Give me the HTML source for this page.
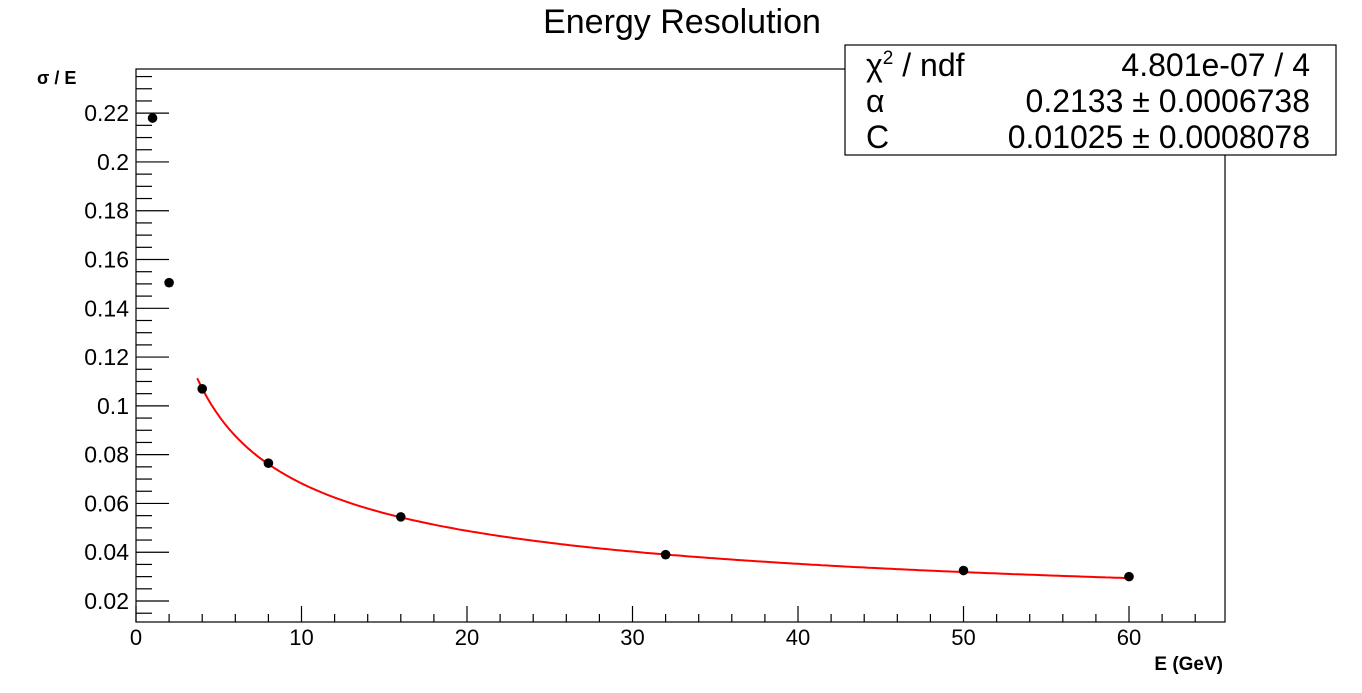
<!DOCTYPE html>
<html><head><meta charset="utf-8"><style>
body{margin:0;background:#fff;}
svg{display:block;font-family:"Liberation Sans",sans-serif;}
</style></head><body>
<svg id="c" width="1362" height="693">
<text x="682" y="33" font-size="34" text-anchor="middle">Energy Resolution</text>
<rect x="136" y="69" width="1089" height="553" fill="none" stroke="#000" stroke-width="1.2"/>
<g id="ax"></g>
<g id="marks"></g>
<text x="37" y="84" font-size="18" font-weight="bold">σ / E</text>
<text x="1223" y="670" font-size="19" font-weight="bold" text-anchor="end">E (GeV)</text>
<g>
<rect x="845" y="45" width="491" height="110" fill="#fff" stroke="#000" stroke-width="1.2"/>
<text x="866" y="76" font-size="32">χ<tspan font-size="19" dy="-12">2</tspan><tspan dy="12"> / ndf</tspan></text>
<text x="1310" y="76" font-size="32" text-anchor="end">4.801e-07 / 4</text>
<text x="866" y="112" font-size="32">α</text>
<text x="1310" y="112" font-size="32" text-anchor="end">0.2133 ± 0.0006738</text>
<text x="866" y="148" font-size="32">C</text>
<text x="1310" y="148" font-size="32" text-anchor="end">0.01025 ± 0.0008078</text>
</g>
</svg>
<script>
const energies=[1,2,4,8,16,32,50,60];
const resolutions=[0.218,0.1505,0.107,0.0765,0.0545,0.039,0.0325,0.030];
const fitAlpha=0.2133;
const fitC=0.01025;
const fitRange=[3.7,60];
const xTicks=[0,10,20,30,40,50,60];
const yTicks=[0.02,0.04,0.06,0.08,0.1,0.12,0.14,0.16,0.18,0.2,0.22];
const xMin=0,xMax=65.8,yMin=0.0114,yMax=0.2381;
const L=136,R=1225,T=69,B=622;
const sx=v=>L+(v-xMin)/(xMax-xMin)*(R-L);
const sy=v=>B-(v-yMin)/(yMax-yMin)*(B-T);
const NS="http://www.w3.org/2000/svg";
const ax=document.getElementById('ax'),mk=document.getElementById('marks');
function mkEl(t,a,p){const e=document.createElementNS(NS,t);for(const k in a)e.setAttribute(k,a[k]);p.appendChild(e);return e;}
for(let v=0;v<=xMax;v+=2){const x=sx(v);const maj=v%10===0;
 const l=mkEl('line',{x1:x,x2:x,y1:B,y2:B-(maj?16:8),stroke:'#000','stroke-width':1.2},ax);
 
 }
xTicks.forEach(v=>{const t=mkEl('text',{x:sx(v),y:B+23,'font-size':22,'text-anchor':'middle'},ax);t.textContent=v;
 
 });
for(let i=0;;i++){const v=0.015+i*0.005;if(v>yMax)break;const y=sy(v);const maj=Math.abs((v/0.02)-Math.round(v/0.02))<1e-6;
 const l=mkEl('line',{x1:L,x2:L+(maj?33:16),y1:y,y2:y,stroke:'#000','stroke-width':1.2},ax);
 
 }
yTicks.forEach(v=>{const t=mkEl('text',{x:L-7,y:sy(v)+8,'font-size':23,'text-anchor':'end'},ax);t.textContent=String(+v.toFixed(2));
 
 });
let d='';for(let i=0;i<=200;i++){const e=fitRange[0]+(fitRange[1]-fitRange[0])*i/200;const r=Math.sqrt(fitAlpha*fitAlpha/e+fitC*fitC);d+=(i?'L':'M')+sx(e).toFixed(1)+','+sy(r).toFixed(1);}
const fit=mkEl('path',{d:d,fill:'none',stroke:'#f00','stroke-width':2},mk);


energies.forEach((e,i)=>{const c=mkEl('circle',{cx:sx(e),cy:sy(resolutions[i]),r:4.8,fill:'#000'},mk);
 
 });
</script>
</body></html>
